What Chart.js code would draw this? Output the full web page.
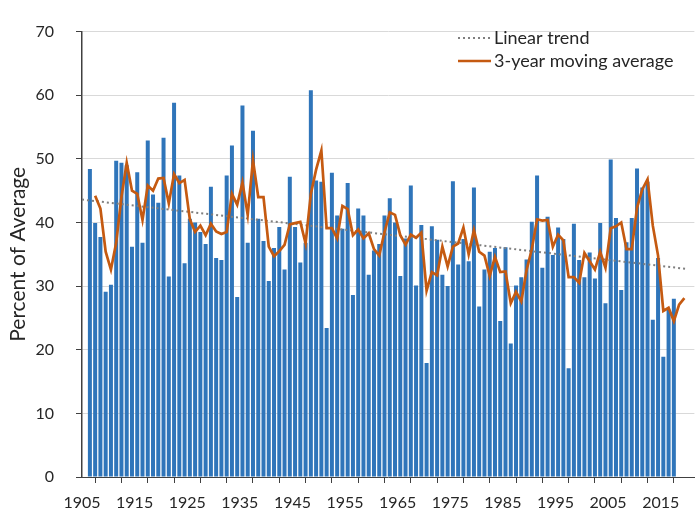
<!DOCTYPE html>
<html>
<head>
<meta charset="utf-8">
<script src="https://cdn.jsdelivr.net/npm/chart.js@4.4.1/dist/chart.umd.min.js"></script>
<style>
  html, body { margin: 0; padding: 0; background: #ffffff; }
  #wrap { width: 697px; height: 510px; }
</style>
</head>
<body>
<div id="wrap"><canvas id="c" width="697" height="510"></canvas></div>
<script>
// ---------- DATA ----------
const years = [
  1906,1907,1908,1909,1910,1911,1912,1913,1914,1915,
  1916,1917,1918,1919,1920,1921,1922,1923,1924,1925,
  1926,1927,1928,1929,1930,1931,1932,1933,1934,1935,
  1936,1937,1938,1939,1940,1941,1942,1943,1944,1945,
  1946,1947,1948,1949,1950,1951,1952,1953,1954,1955,
  1956,1957,1958,1959,1960,1961,1962,1963,1964,1965,
  1966,1967,1968,1969,1970,1971,1972,1973,1974,1975,
  1976,1977,1978,1979,1980,1981,1982,1983,1984,1985,
  1986,1987,1988,1989,1990,1991,1992,1993,1994,1995,
  1996,1997,1998,1999,2000,2001,2002,2003,2004,2005,
  2006,2007,2008,2009,2010,2011,2012,2013,2014,2015,
  2016,2017
];
const percentOfAverage = [
  48.4, 39.9, 37.7, 29.1, 30.2, 49.7, 49.4, 49.0, 36.2, 47.9,
  36.8, 52.9, 44.4, 43.1, 53.3, 31.5, 58.8, 47.4, 33.6, 40.6,
  40.0, 38.5, 36.6, 45.6, 34.4, 34.1, 47.4, 52.1, 28.3, 58.4,
  36.8, 54.4, 40.6, 37.1, 30.8, 36.0, 39.3, 32.6, 47.2, 39.3,
  33.7, 36.8, 60.8, 46.6, 46.4, 23.4, 47.8, 41.1, 39.0, 46.2,
  28.6, 42.2, 41.1, 31.8, 35.6, 36.6, 41.1, 43.8, 40.0, 31.6,
  37.5, 45.8, 30.1, 39.6, 17.9, 39.4, 37.3, 31.8, 30.0, 46.5,
  33.4, 37.4, 33.9, 45.5, 26.8, 32.6, 35.4, 36.0, 24.5, 36.1,
  21.0, 30.1, 31.4, 34.2, 40.1, 47.4, 32.9, 40.9, 34.9, 39.2,
  37.4, 17.1, 39.8, 34.1, 31.4, 35.3, 31.2, 39.9, 27.3, 49.9,
  40.7, 29.4, 36.9, 40.7, 48.5, 45.5, 46.4, 24.7, 34.4, 18.9,
  26.3, 28.0
];
const maYears = [
  1907,1908,1909,1910,1911,1912,1913,1914,1915,1916,
  1917,1918,1919,1920,1921,1922,1923,1924,1925,1926,
  1927,1928,1929,1930,1931,1932,1933,1934,1935,1936,
  1937,1938,1939,1940,1941,1942,1943,1944,1945,1946,
  1947,1948,1949,1950,1951,1952,1953,1954,1955,1956,
  1957,1958,1959,1960,1961,1962,1963,1964,1965,1966,
  1967,1968,1969,1970,1971,1972,1973,1974,1975,1976,
  1977,1978,1979,1980,1981,1982,1983,1984,1985,1986,
  1987,1988,1989,1990,1991,1992,1993,1994,1995,1996,
  1997,1998,1999,2000,2001,2002,2003,2004,2005,2006,
  2007,2008,2009,2010,2011,2012,2013,2014,2015,2016,
  2017,2018,2019
];
const movingAverage = [
  44.2, 42.2, 35.4, 32.6, 36.8, 44.0, 49.4, 45.0, 44.5, 40.4,
  45.8, 45.0, 46.9, 47.0, 43.0, 47.6, 46.2, 46.7, 40.5, 38.5,
  39.5, 38.0, 39.8, 38.6, 38.2, 38.5, 44.5, 42.8, 46.3, 41.2,
  49.8, 44.0, 44.0, 36.2, 34.7, 35.5, 36.5, 39.7, 39.9, 40.1,
  36.7, 44.5, 48.3, 51.3, 39.1, 39.1, 37.5, 42.6, 42.1, 38.0,
  38.9, 37.5, 38.3, 35.8, 34.8, 38.5, 41.6, 41.2, 38.0, 36.5,
  38.1, 37.6, 38.4, 29.3, 32.2, 31.7, 36.2, 33.1, 36.2, 36.7,
  39.2, 35.0, 38.8, 35.4, 34.8, 31.6, 34.6, 32.2, 32.3, 27.3,
  29.1, 27.6, 32.5, 35.8, 40.5, 40.3, 40.4, 36.2, 38.1, 37.2,
  31.4, 31.4, 30.5, 35.2, 33.9, 32.6, 35.4, 32.9, 39.1, 39.4,
  40.0, 35.8, 35.8, 42.3, 45.2, 46.8, 39.5, 34.8, 26.1, 26.6,
  24.5, 27.1, 28.1
];
const trendYears = [1905, 2020];
const trendValues = [43.6, 32.7];
const xTickYears = [1905,1910,1915,1920,1925,1930,1935,1940,1945,1950,1955,1960,
                    1965,1970,1975,1980,1985,1990,1995,2000,2005,2010,2015,2020];
const xLabelYears = [1905,1915,1925,1935,1945,1955,1965,1975,1985,1995,2005,2015];
const yTicks = [0,10,20,30,40,50,60,70];
const seriesLabels = ['Percent of Average', 'Linear trend', '3-year moving average'];
const yAxisTitle = 'Percent of Average';

// ---------- RENDERING ----------
const FONT = 'Lato';
const TEXT = '#262626';
const AXIS = '#404040';
// Each year's column sits in the middle of its one-year span on the date axis.
const mid = y => y + 0.5;

const legendPlugin = {
  id: 'insideLegend',
  afterDraw(chart) {
    const c = chart.ctx;
    const rows = [
      { ds: chart.data.datasets[1], y: 38 },
      { ds: chart.data.datasets[2], y: 61 }
    ];
    c.save();
    rows.forEach(r => {
      c.beginPath();
      c.setLineDash(r.ds.borderDash || []);
      c.lineWidth = r.ds.borderWidth;
      c.strokeStyle = r.ds.borderColor;
      c.moveTo(458, r.y);
      c.lineTo(491, r.y);
      c.stroke();
      c.setLineDash([]);
      c.fillStyle = TEXT;
      c.font = '18px ' + FONT;
      c.textAlign = 'left';
      c.textBaseline = 'middle';
      c.fillText(r.ds.label, 494, r.y);
    });
    c.restore();
  }
};

new Chart(document.getElementById('c'), {
  type: 'bar',
  data: {
    datasets: [
      {
        type: 'bar',
        label: seriesLabels[0],
        data: years.map((yr, i) => ({ x: mid(yr), y: percentOfAverage[i] })),
        backgroundColor: '#2f75ba',
        borderWidth: 0,
        barPercentage: 0.76,
        categoryPercentage: 1.0,
        order: 3
      },
      {
        type: 'line',
        label: seriesLabels[1],
        data: trendYears.map((yr, i) => ({ x: yr, y: trendValues[i] })),
        borderColor: '#7f7f7f',
        borderWidth: 2,
        borderDash: [2, 3],
        pointRadius: 0,
        fill: false,
        order: 2
      },
      {
        type: 'line',
        label: seriesLabels[2],
        data: maYears.map((yr, i) => ({ x: mid(yr), y: movingAverage[i] })),
        borderColor: '#c55a11',
        borderWidth: 2.7,
        pointRadius: 0,
        tension: 0,
        fill: false,
        order: 1
      }
    ]
  },
  options: {
    responsive: false,
    animation: false,
    devicePixelRatio: 1,
    layout: { padding: { top: 15, right: 0, bottom: 0, left: 0 } },
    plugins: {
      legend: { display: false },
      tooltip: { enabled: false },
      title: { display: false }
    },
    scales: {
      x: {
        type: 'linear',
        min: 1905,
        max: 2021.4,
        offset: false,
        afterBuildTicks: scale => { scale.ticks = xTickYears.map(v => ({ value: v })); },
        afterFit: scale => { scale.height = 33; },
        ticks: {
          autoSkip: false,
          maxRotation: 0,
          minRotation: 0,
          padding: 10,
          color: TEXT,
          font: { family: FONT, size: 16 },
          callback: v => (xLabelYears.includes(v) ? String(v) : '')
        },
        grid: {
          display: true,
          drawOnChartArea: false,
          drawTicks: true,
          tickLength: 6,
          tickColor: AXIS
        },
        border: { display: true, color: AXIS, width: 1 }
      },
      y: {
        min: 0,
        max: 70,
        afterBuildTicks: scale => { scale.ticks = yTicks.map(v => ({ value: v })); },
        afterFit: scale => { scale.width = 82; },
        ticks: {
          padding: 22,
          color: TEXT,
          font: { family: FONT, size: 16 }
        },
        grid: {
          color: ctx => (ctx.tick && ctx.tick.value === 0 ? 'rgba(0,0,0,0)' : '#d9d9d9'),
          lineWidth: 1,
          drawTicks: true,
          tickLength: 6,
          tickColor: AXIS
        },
        border: { display: true, color: AXIS, width: 1.5 },
        title: {
          display: true,
          text: yAxisTitle,
          color: TEXT,
          font: { family: FONT, size: 21 },
          padding: { top: 6, bottom: 0 }
        }
      }
    }
  },
  plugins: [legendPlugin]
});
</script>
</body>
</html>
